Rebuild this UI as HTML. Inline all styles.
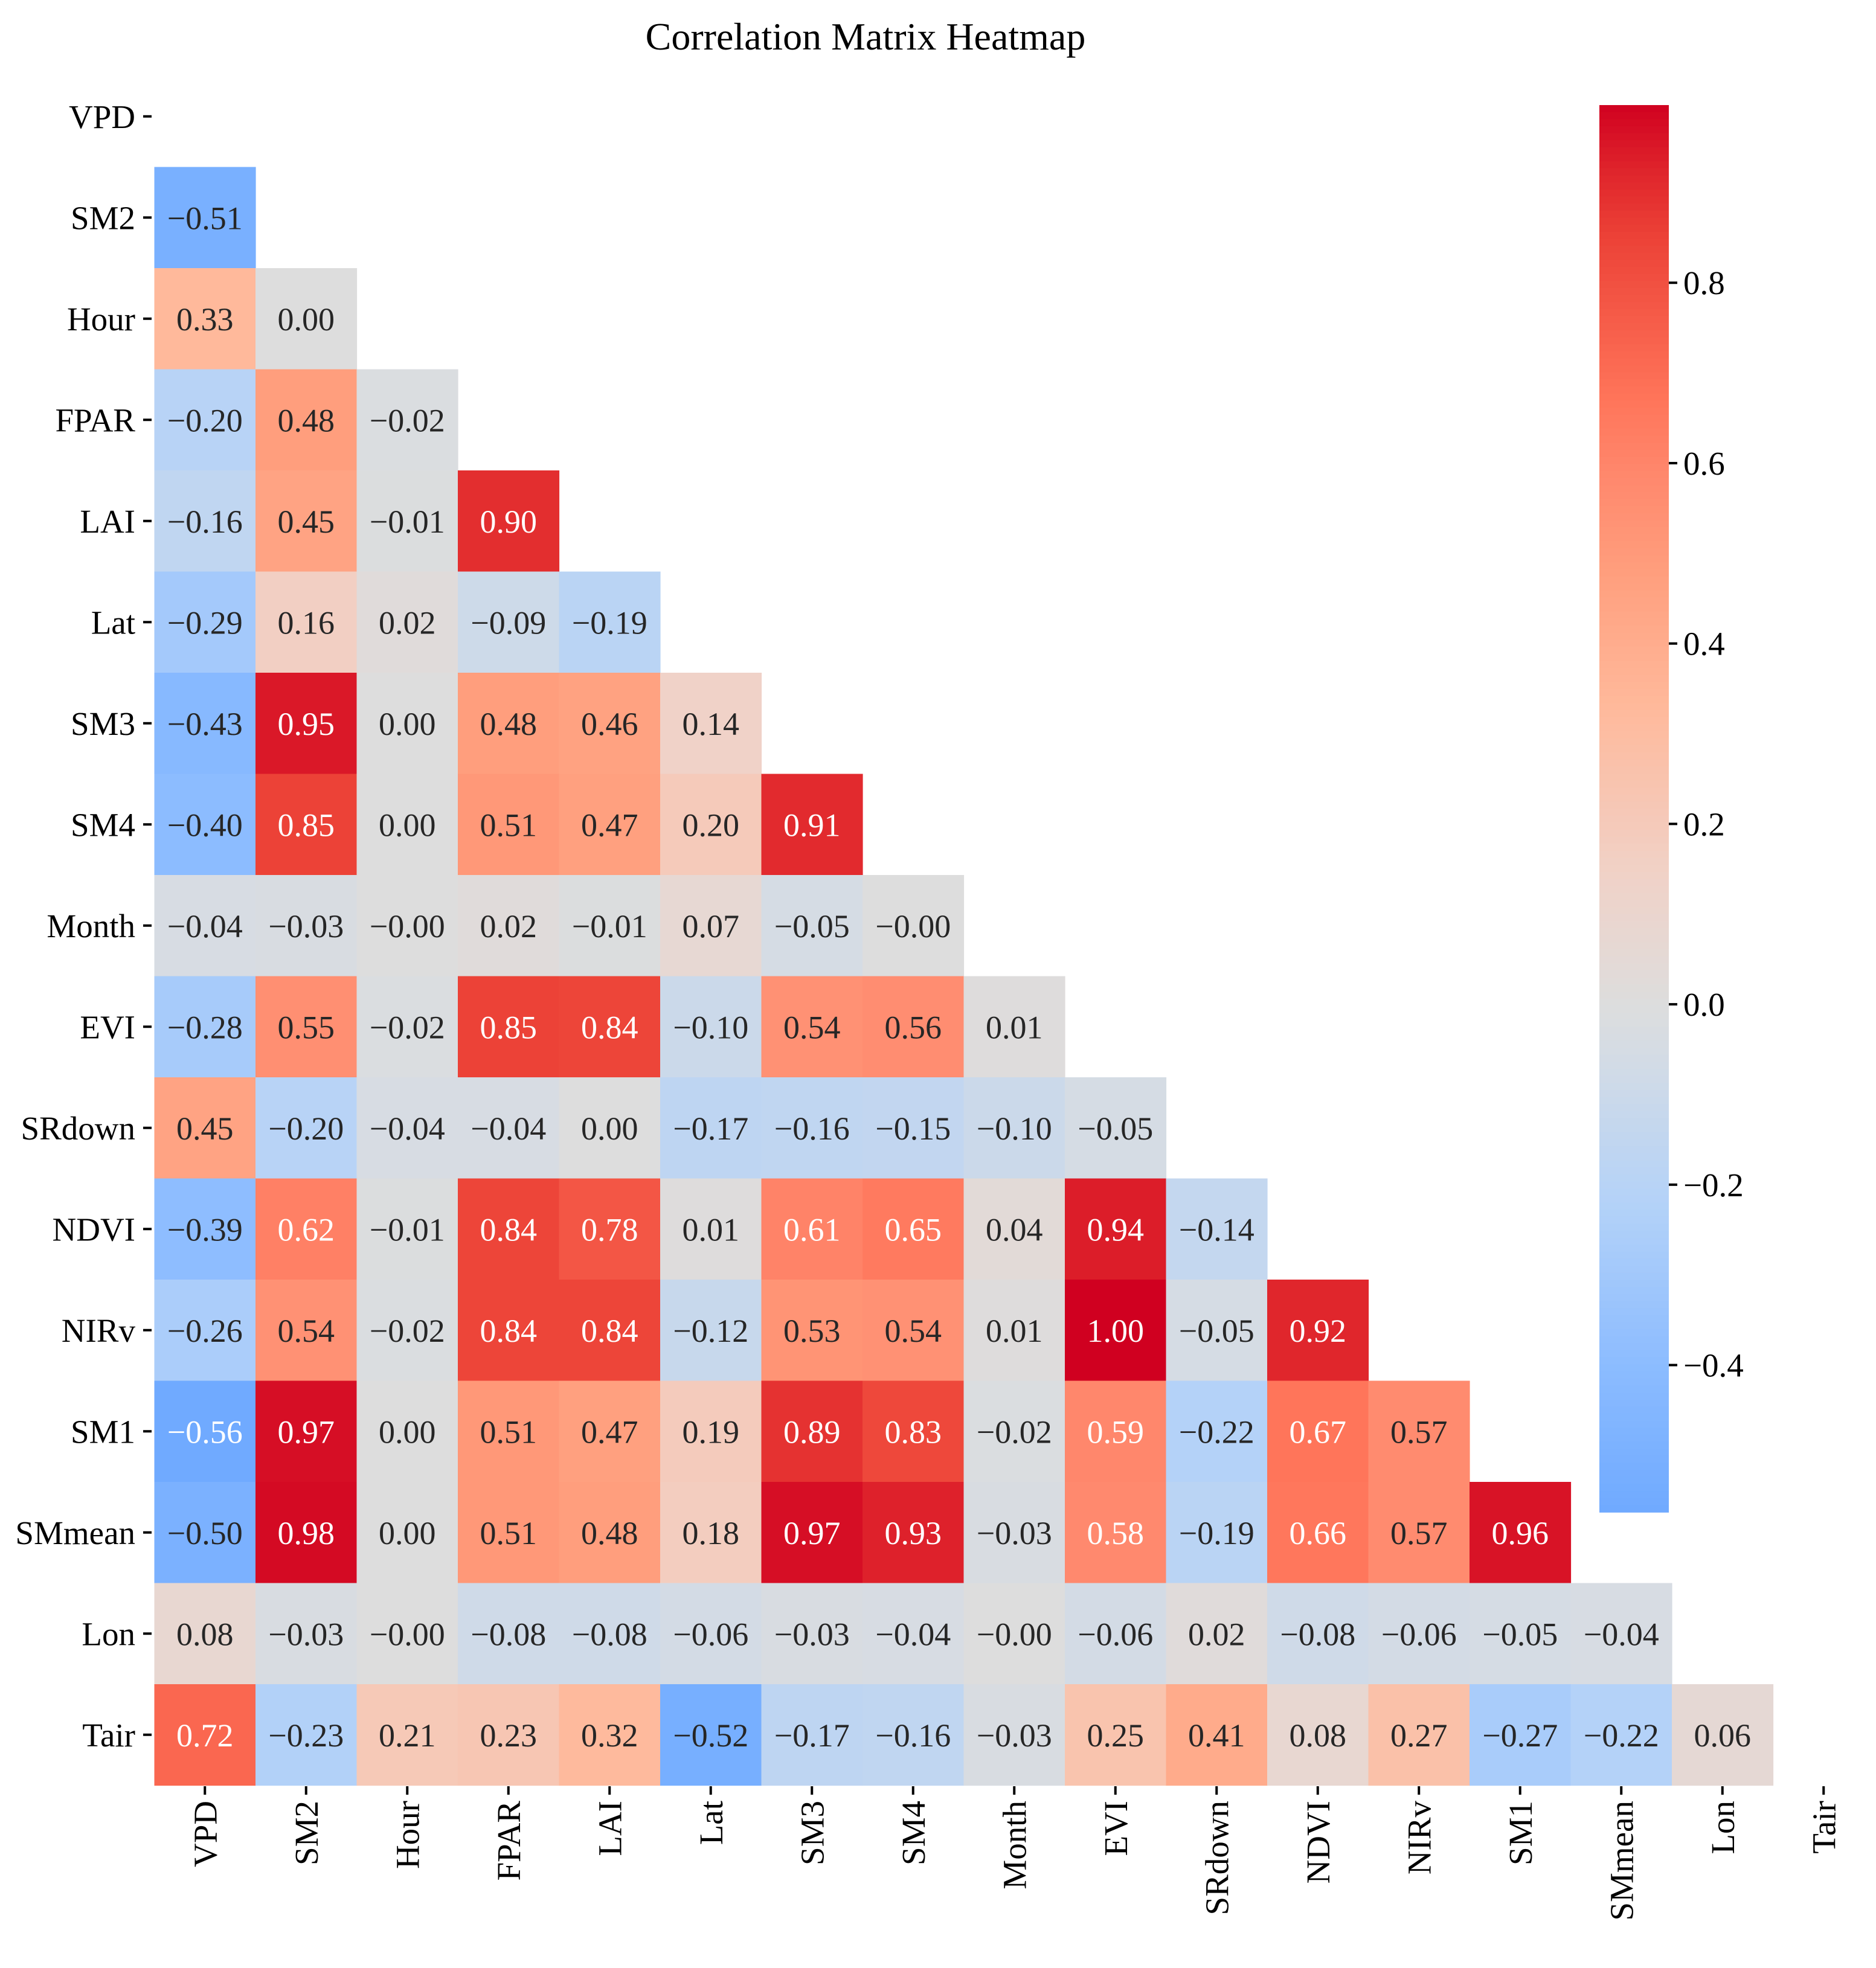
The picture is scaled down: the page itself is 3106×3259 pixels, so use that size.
<!DOCTYPE html>
<html><head><meta charset="utf-8"><style>
html,body{margin:0;padding:0;background:#fff}
svg{display:block;font-family:"Liberation Serif","DejaVu Serif",serif}
</style></head><body>
<svg id="chart" width="3106" height="3259" viewBox="0 0 3106 3259">
<rect width="3106" height="3259" fill="#fff"/>
<text x="1433" y="82" font-size="64" text-anchor="middle">Correlation Matrix Heatmap</text>
<g id="cells"></g>
<g id="yticks"></g>
<g id="xticks"></g>
<g id="cbar"></g>
</svg>
<script>
const labels = ["VPD","SM2","Hour","FPAR","LAI","Lat","SM3","SM4","Month","EVI","SRdown","NDVI","NIRv","SM1","SMmean","Lon","Tair"];
const row1 = [-0.51];
const row2 = [0.33,0.00];
const row3 = [-0.20,0.48,-0.02];
const row4 = [-0.16,0.45,-0.01,0.90];
const row5 = [-0.29,0.16,0.02,-0.09,-0.19];
const row6 = [-0.43,0.95,0.00,0.48,0.46,0.14];
const row7 = [-0.40,0.85,0.00,0.51,0.47,0.20,0.91];
const row8 = [-0.04,-0.03,-0.00,0.02,-0.01,0.07,-0.05,-0.00];
const row9 = [-0.28,0.55,-0.02,0.85,0.84,-0.10,0.54,0.56,0.01];
const row10 = [0.45,-0.20,-0.04,-0.04,0.00,-0.17,-0.16,-0.15,-0.10,-0.05];
const row11 = [-0.39,0.62,-0.01,0.84,0.78,0.01,0.61,0.65,0.04,0.94,-0.14];
const row12 = [-0.26,0.54,-0.02,0.84,0.84,-0.12,0.53,0.54,0.01,1.00,-0.05,0.92];
const row13 = [-0.56,0.97,0.00,0.51,0.47,0.19,0.89,0.83,-0.02,0.59,-0.22,0.67,0.57];
const row14 = [-0.50,0.98,0.00,0.51,0.48,0.18,0.97,0.93,-0.03,0.58,-0.19,0.66,0.57,0.96];
const row15 = [0.08,-0.03,-0.00,-0.08,-0.08,-0.06,-0.03,-0.04,-0.00,-0.06,0.02,-0.08,-0.06,-0.05,-0.04];
const row16 = [0.72,-0.23,0.21,0.23,0.32,-0.52,-0.17,-0.16,-0.03,0.25,0.41,0.08,0.27,-0.27,-0.22,0.06];
const rows = [[],row1,row2,row3,row4,row5,row6,row7,row8,row9,row10,row11,row12,row13,row14,row15,row16];
const cbarTicks = [0.8,0.6,0.4,0.2,0.0,-0.2,-0.4];
const vmin = -0.563, vmax = 0.997;

const NS = "http://www.w3.org/2000/svg";
const X0 = 255.5, Y0 = 109, CW = 167.5, CH = 167.5;
const xPos = i => X0 + i*CW;
const yPos = j => Y0 + j*CH;
const stops = [[-0.56,[112,170,255]],[-0.4,[140,188,255]],[-0.22,[180,210,248]],[-0.05,[213,220,228]],[0,[221,221,221]],[0.14,[240,210,200]],[0.33,[255,185,155]],[0.48,[255,158,125]],[0.59,[255,135,108]],[0.67,[255,117,90]],[0.85,[236,66,55]],[0.92,[224,38,44]],[1.0,[208,0,32]]];
function color(v){
  if(v<=stops[0][0]) return stops[0][1];
  for(let k=1;k<stops.length;k++){
    if(v<=stops[k][0]){const a=stops[k-1],b=stops[k];const t=(v-a[0])/(b[0]-a[0]);
      return a[1].map((c,i)=>Math.round(c+(b[1][i]-c)*t));}
  }
  return stops[stops.length-1][1];
}
const rgb = c => `rgb(${c[0]},${c[1]},${c[2]})`;
function lum(c){const f=x=>{x/=255;return x<=0.03928?x/12.92:Math.pow((x+0.055)/1.055,2.4)};return 0.2126*f(c[0])+0.7152*f(c[1])+0.0722*f(c[2]);}
function fmt(v){const s=Math.abs(v).toFixed(2);return (v<0||Object.is(v,-0))?"\u2212"+s:s;}
function mk(tag,attrs,parent){const e=document.createElementNS(NS,tag);for(const k in attrs)e.setAttribute(k,attrs[k]);parent.appendChild(e);return e;}

const cells=document.getElementById('cells');
rows.forEach((r,j)=>{
  r.forEach((v,i)=>{
    const c=color(v);
    const rc=mk('rect',{x:xPos(i),y:yPos(j),width:CW+0.6,height:CH+0.6,fill:rgb(c)},cells);
    
    
    const t=mk('text',{x:xPos(i)+CW/2,y:yPos(j)+CH/2+19,'font-size':54,'text-anchor':'middle',fill:lum(c)>0.408?'#262626':'#fff'},cells);
    t.textContent=fmt(v);
    
    
  });
});
const yt=document.getElementById('yticks'), xt=document.getElementById('xticks');
labels.forEach((l,k)=>{
  const cy=yPos(k)+CH/2;
  const tk=mk('line',{x1:237,x2:251,y1:cy,y2:cy,stroke:'#000','stroke-width':4},yt);
  
  
  const t=mk('text',{x:224,y:cy+19,'font-size':55,'text-anchor':'end'},yt);
  t.textContent=l;
  
  
  const cx=xPos(k)+CW/2;
  const tk2=mk('line',{x1:cx,x2:cx,y1:2958,y2:2972,stroke:'#000','stroke-width':4},xt);
  
  
  const t2=mk('text',{x:0,y:0,'font-size':55,'text-anchor':'end',transform:`translate(${cx+19},2982) rotate(-90)`},xt);
  t2.textContent=l;
  
  
});
// colorbar
const cb=document.getElementById('cbar');
const CBX=2648, CBW=115, CBT=174, CBB=2504;
const cbY = v => CBT + (vmax-v)/(vmax-vmin)*(CBB-CBT);
const N=200;
for(let k=0;k<N;k++){
  const v0=vmax-(vmax-vmin)*k/N, v1=vmax-(vmax-vmin)*(k+1)/N;
  const r=mk('rect',{x:CBX,y:cbY(v0),width:CBW,height:cbY(v1)-cbY(v0)+0.8,fill:rgb(color((v0+v1)/2))},cb);
  
  
}
cbarTicks.forEach(v=>{
  const y=cbY(v);
  const l=mk('line',{x1:CBX+CBW,x2:CBX+CBW+14,y1:y,y2:y,stroke:'#000','stroke-width':4},cb);
  
  
  const t=mk('text',{x:CBX+CBW+24,y:y+19,'font-size':55},cb);
  t.textContent=(v<0?"\u2212":"")+Math.abs(v).toFixed(1);
  
  
});
</script>
</body></html>
